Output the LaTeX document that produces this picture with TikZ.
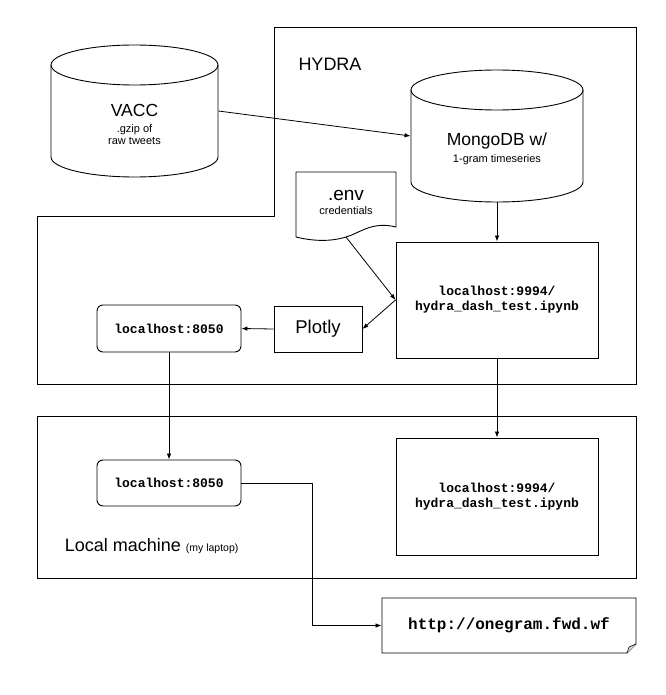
\documentclass[tikz,border=0pt]{standalone}
\usepackage{fontspec}
\setmainfont{Liberation Sans}
\setmonofont{Liberation Mono}
\usetikzlibrary{arrows.meta}
\newcommand\myfs[2]{\fontsize{#1pt}{#2pt}\selectfont}
\begin{document}
\begin{tikzpicture}[x=1pt,y=-1pt,
  line width=0.9pt,
  arr/.style={-{Latex[length=6pt,width=4.5pt]}, line width=0.8pt},
  box/.style={draw, rectangle, inner sep=0pt},
  rbox/.style={draw, rounded corners=6pt, inner sep=0pt, minimum width=144pt, minimum height=47pt, font={\ttfamily\bfseries\myfs{13}{15}}},
  ghost/.style={draw=none, inner sep=0pt},
  big/.style={font={\myfs{18}{21}}},
  small/.style={font={\myfs{11}{13}}},
  mono/.style={font={\ttfamily\bfseries\myfs{13}{15}}, align=center},
]
\path[use as bounding box, fill=white] (0,0) rectangle (665,695);

% HYDRA region
\draw (274,27) -- (636,27) -- (636,384) -- (37,384) -- (37,216) -- (274,216) -- cycle;
\node[big, anchor=base] (hydra) at (330,71) {HYDRA};

% Local machine region
\draw (37,416) rectangle (636,578);
\node[big, anchor=base west] (localmach) at (61,551) {Local machine {\myfs{10.5}{12}(my laptop)}};

% VACC cylinder
\node[ghost, minimum width=167pt, minimum height=132pt] (vacc) at (134.5,111) {};
\draw (51,65) -- (51,157) arc[start angle=180, end angle=360, x radius=83.5pt, y radius=20pt] -- (218,65);
\draw (134.5,65) ellipse [x radius=83.5pt, y radius=20pt];
\node[font={\myfs{17.5}{20}}, anchor=base] (vacct) at (134.5,117) {VACC};
\node[small, anchor=base] (vacc1) at (134.5,133) {.gzip of};
\node[small, anchor=base] (vacc2) at (134.5,145) {raw tweets};

% MongoDB cylinder
\node[ghost, minimum width=172pt, minimum height=132pt] (mongo) at (497,136) {};
\draw (411,90) -- (411,182) arc[start angle=180, end angle=360, x radius=86pt, y radius=20pt] -- (583,90);
\draw (497,90) ellipse [x radius=86pt, y radius=20pt];
\node[font={\myfs{17.5}{20}}, anchor=base] (mongot) at (497,146) {MongoDB w/};
\node[small, anchor=base] (mongo1) at (497,162) {1-gram timeseries};

% .env document
\node[ghost, minimum width=100pt, minimum height=65pt] (env) at (346,204.5) {};
\draw (296,172) -- (396,172) -- (396,227) .. controls (372,221) and (360,233) .. (346,237) .. controls (330,242) and (312,241) .. (296,237) -- cycle;
\coordinate (envtip) at (346,237);
\node[font={\myfs{19}{22}}, anchor=base] (envt) at (346,200) {.env};
\node[small, anchor=base] (env1) at (346,214) {credentials};

% notebooks
\node[box, minimum width=202pt, minimum height=116pt, mono] (nb1) at (497,300) {localhost:9994/\\hydra\_dash\_test.ipynb};
\node[box, minimum width=202pt, minimum height=117pt, mono] (nb2) at (497,496.5) {localhost:9994/\\hydra\_dash\_test.ipynb};

% Plotly and localhost boxes
\node[box, minimum width=88pt, minimum height=46pt, font={\myfs{18.5}{22}}] (plotly) at (318,329) {Plotly};
\node[rbox] (lh1) at (169,328.5) {localhost:8050};
\node[rbox, minimum height=46pt] (lh2) at (169,483) {localhost:8050};

% http note
\node[ghost, minimum width=254pt, minimum height=55pt, font={\ttfamily\bfseries\myfs{16}{19}}] (http) at (509,625.5) {http://onegram.fwd.wf};
\draw (382,598) -- (636,598) -- (636,644) -- (627,653) -- (382,653) -- cycle;
\draw[fill=black!15, line width=0.6pt] (636,644) -- (629,647) -- (627,653);

% connectors
\draw[arr] (vacc.east) -- (mongo.west);
\draw[arr] (mongo.south) -- (nb1.north);
\draw[arr] (envtip) -- (nb1.west);
\draw[arr] (nb1.west) -- (plotly.east);
\draw[arr] (plotly.west) -- (lh1.east);
\draw[arr] (lh1.south) -- (lh2.north);
\draw[arr] (nb1.south) -- (nb2.north);
\draw[arr] (lh2.east) -- ++(71,0) |- (http.west);
\end{tikzpicture}
\end{document}
